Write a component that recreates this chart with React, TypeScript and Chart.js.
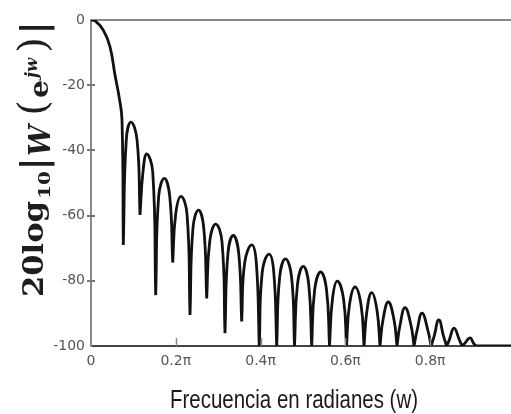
import React, { useEffect, useRef } from "react";
import { Chart, registerables } from "chart.js";

Chart.register(...registerables);

// ---- Data (x in units of pi rad, y in dB) ----
const mainLobeX = [0, 0.0094, 0.029, 0.0448, 0.0566, 0.0667, 0.0731];
const mainLobeDb = [0, -0.2, -3.1, -8.2, -16.9, -23.9, -30.7];

const nullX = [
  0.0762, 0.1156, 0.1526, 0.1927, 0.2335, 0.2729, 0.316, 0.3554, 0.3969, 0.438,
  0.48, 0.5205, 0.5625, 0.6026, 0.6439, 0.6816, 0.7217, 0.7618, 0.8019, 0.8389,
  0.875, 0.908,
];
const nullDb = [
  -69.0, -59.8, -84.4, -74.4, -90.5, -85.4, -96.1, -92.5, -100, -100,
  -100, -100, -100, -100, -100, -100, -100, -100, -100, -100,
  -100, -100,
];
const peakX = [
  0.0943, 0.1314, 0.1729, 0.2123, 0.2535, 0.2941, 0.3356, 0.379, 0.4198, 0.4587,
  0.5007, 0.5417, 0.5809, 0.6226, 0.662, 0.7012, 0.7406, 0.7807, 0.8203, 0.8561,
  0.8939,
];
const peakDb = [
  -31.3, -41.1, -48.6, -54.1, -58.3, -62.6, -66.1, -69.0, -71.8, -73.3,
  -75.6, -77.3, -80.1, -81.9, -83.6, -86.5, -88.2, -89.9, -92.0, -94.5,
  -97.5,
];
// sides of each sidelobe arch (where the arch starts to round over)
const shoulderLeftX = [
  0.0832, 0.1226, 0.1596, 0.1997, 0.2405, 0.2799, 0.323, 0.3624, 0.4039, 0.445,
  0.487, 0.5275, 0.5695, 0.6096, 0.6509, 0.6886, 0.7287, 0.7688, 0.8089, 0.8449,
  0.8815,
];
const shoulderRightX = [
  0.1086, 0.1456, 0.1857, 0.2265, 0.2659, 0.309, 0.3484, 0.3899, 0.431, 0.473,
  0.5135, 0.5555, 0.5956, 0.6369, 0.6746, 0.7147, 0.7548, 0.7949, 0.8319, 0.869,
  0.9025,
];
const shoulderDb = [
  -36.8, -46.6, -54.1, -59.6, -63.8, -68.1, -71.6, -74.5, -77.3, -78.8,
  -81.1, -82.8, -85.6, -87.4, -89.1, -92.0, -93.7, -95.4, -97.2, -98.2,
  -99.2,
];
const tailX = [1];
const tailDb = [-100];

const xTickValues = [0, 0.2, 0.4, 0.6, 0.8, 1];
const xTickLabels = ["0", "0.2\u03c0", "0.4\u03c0", "0.6\u03c0", "0.8\u03c0", "\u03c0"];
const yTickValues = [-100, -80, -60, -40, -20, 0];

const xTitle = "Frecuencia en radianes (w)";

function buildPoints() {
  const pts: { x: number; y: number }[] = [];
  mainLobeX.forEach((x, i) => pts.push({ x, y: mainLobeDb[i] }));
  nullX.forEach((x, i) => {
    // null appears twice so the curve forms a sharp notch
    pts.push({ x, y: nullDb[i] });
    pts.push({ x, y: nullDb[i] });
    if (i < peakX.length) {
      pts.push({ x: shoulderLeftX[i], y: shoulderDb[i] });
      pts.push({ x: peakX[i], y: peakDb[i] });
      pts.push({ x: shoulderRightX[i], y: shoulderDb[i] });
    }
  });
  tailX.forEach((x, i) => pts.push({ x, y: tailDb[i] }));
  return pts;
}

type Piece = { t: string; font: string; mode: "fit" | "center"; a: number; b?: number; base: number };

const yTitlePieces: Piece[] = [
  { t: "20log", font: "bold 28px 'DejaVu Serif'", mode: "fit", a: 297, b: 201, base: 43 },
  { t: "10", font: "bold 17px 'DejaVu Serif'", mode: "fit", a: 199, b: 171, base: 50 },
  { t: "|", font: "bold 36px 'DejaVu Serif'", mode: "center", a: 164, base: 46 },
  { t: "W", font: "italic bold 30px 'DejaVu Serif'", mode: "fit", a: 156, b: 125, base: 50 },
  { t: "(", font: "40px 'DejaVu Serif'", mode: "center", a: 108, base: 46 },
  { t: "e", font: "bold 26px 'DejaVu Serif'", mode: "fit", a: 98, b: 80, base: 48 },
  { t: "jw", font: "italic bold 16px 'DejaVu Serif'", mode: "fit", a: 78, b: 58, base: 37 },
  { t: ")", font: "40px 'DejaVu Serif'", mode: "center", a: 45, base: 46 },
  { t: "|", font: "bold 36px 'DejaVu Serif'", mode: "center", a: 28, base: 46 },
];

const decorPlugin = {
  id: "decor",
  afterDraw(chart: any) {
    const ctx: CanvasRenderingContext2D = chart.ctx;
    const xs = chart.scales.x;
    const ys = chart.scales.y;
    const area = chart.chartArea;
    ctx.save();
    // inward x tick marks
    ctx.strokeStyle = "#888";
    ctx.lineWidth = 1.5;
    [0.2, 0.4, 0.6, 0.8].forEach((v) => {
      const px = Math.round(xs.getPixelForValue(v)) + 0.5;
      ctx.beginPath();
      ctx.moveTo(px, area.bottom);
      ctx.lineTo(px, area.bottom - 8);
      ctx.stroke();
    });
    // y tick marks crossing the axis
    ctx.strokeStyle = "#777";
    ctx.lineWidth = 2;
    [-80, -60, -40, -20].forEach((v) => {
      const py = Math.round(ys.getPixelForValue(v));
      ctx.beginPath();
      ctx.moveTo(area.left - 4, py);
      ctx.lineTo(area.left + 4, py);
      ctx.stroke();
    });
    // y title (rotated)
    ctx.fillStyle = "#1e1e1e";
    yTitlePieces.forEach((p) => {
      ctx.save();
      ctx.font = p.font;
      ctx.textBaseline = "alphabetic";
      if (p.mode === "fit") {
        const w = ctx.measureText(p.t).width;
        const target = p.a - (p.b as number);
        ctx.translate(p.base, p.a);
        ctx.rotate(-Math.PI / 2);
        ctx.scale(target / w, 1);
        ctx.textAlign = "left";
        ctx.fillText(p.t, 0, 0);
      } else {
        ctx.translate(p.base, p.a);
        ctx.rotate(-Math.PI / 2);
        ctx.textAlign = "center";
        ctx.fillText(p.t, 0, 0);
      }
      ctx.restore();
    });
    // x title
    ctx.font = "25px 'Liberation Sans Narrow', 'Liberation Sans', sans-serif";
    ctx.textAlign = "left";
    ctx.textBaseline = "alphabetic";
    const w = ctx.measureText(xTitle).width;
    const left = 170;
    const right = 418;
    ctx.translate(left, 408);
    ctx.scale((right - left) / w, 1);
    ctx.fillStyle = "#1a1a1a";
    ctx.fillText(xTitle, 0, 0);
    ctx.restore();
  },
};

export default function App() {
  const ref = useRef<HTMLCanvasElement | null>(null);

  useEffect(() => {
    if (!ref.current) return;
    const chart = new Chart(ref.current, {
      type: "line",
      data: {
        datasets: [
          {
            data: buildPoints(),
            borderColor: "#111111",
            borderWidth: 2.8,
            pointRadius: 0,
            tension: 0.45,
            fill: false,
          },
        ],
      },
      options: {
        animation: false,
        responsive: false,
        devicePixelRatio: 1,
        events: [],
        layout: { padding: { left: 0, right: 15, top: 20, bottom: 0 } },
        plugins: { legend: { display: false }, tooltip: { enabled: false } },
        scales: {
          x: {
            type: "linear",
            position: "bottom",
            min: 0,
            max: 1,
            afterBuildTicks: (s: any) => {
              s.ticks = xTickValues.map((v) => ({ value: v }));
            },
            afterFit: (s: any) => {
              s.height = 68;
            },
            ticks: {
              padding: 7,
              color: "#555",
              font: { family: "'DejaVu Sans'", size: 14 },
              maxRotation: 0,
              autoSkip: false,
              callback: (_v: any, i: number) => xTickLabels[i],
            },
            grid: { display: false, drawTicks: false },
            border: { display: true, color: "#444", width: 2 },
          },
          xTop: {
            type: "linear",
            position: "top",
            min: 0,
            max: 1,
            afterFit: (s: any) => {
              s.height = 0;
            },
            ticks: { display: false },
            grid: { display: false, drawTicks: false },
            border: { display: true, color: "#888", width: 2 },
          },
          y: {
            type: "linear",
            min: -100,
            max: 0,
            afterBuildTicks: (s: any) => {
              s.ticks = yTickValues.map((v) => ({ value: v }));
            },
            afterFit: (s: any) => {
              s.width = 91;
            },
            ticks: {
              padding: 6,
              color: "#555",
              font: { family: "'DejaVu Sans'", size: 14 },
              callback: (v: any) => String(v),
            },
            grid: { display: false, drawTicks: false },
            border: { display: true, color: "#888", width: 2 },
          },
        },
      },
      plugins: [decorPlugin],
    });
    return () => chart.destroy();
  }, []);

  return (
    <div
      style={{
        position: "fixed",
        left: 0,
        top: 0,
        width: 511,
        height: 414,
        overflow: "hidden",
        background: "#fff",
      }}
    >
      <canvas ref={ref} width={530} height={414} style={{ display: "block", width: 530, height: 414 }} />
    </div>
  );
}
